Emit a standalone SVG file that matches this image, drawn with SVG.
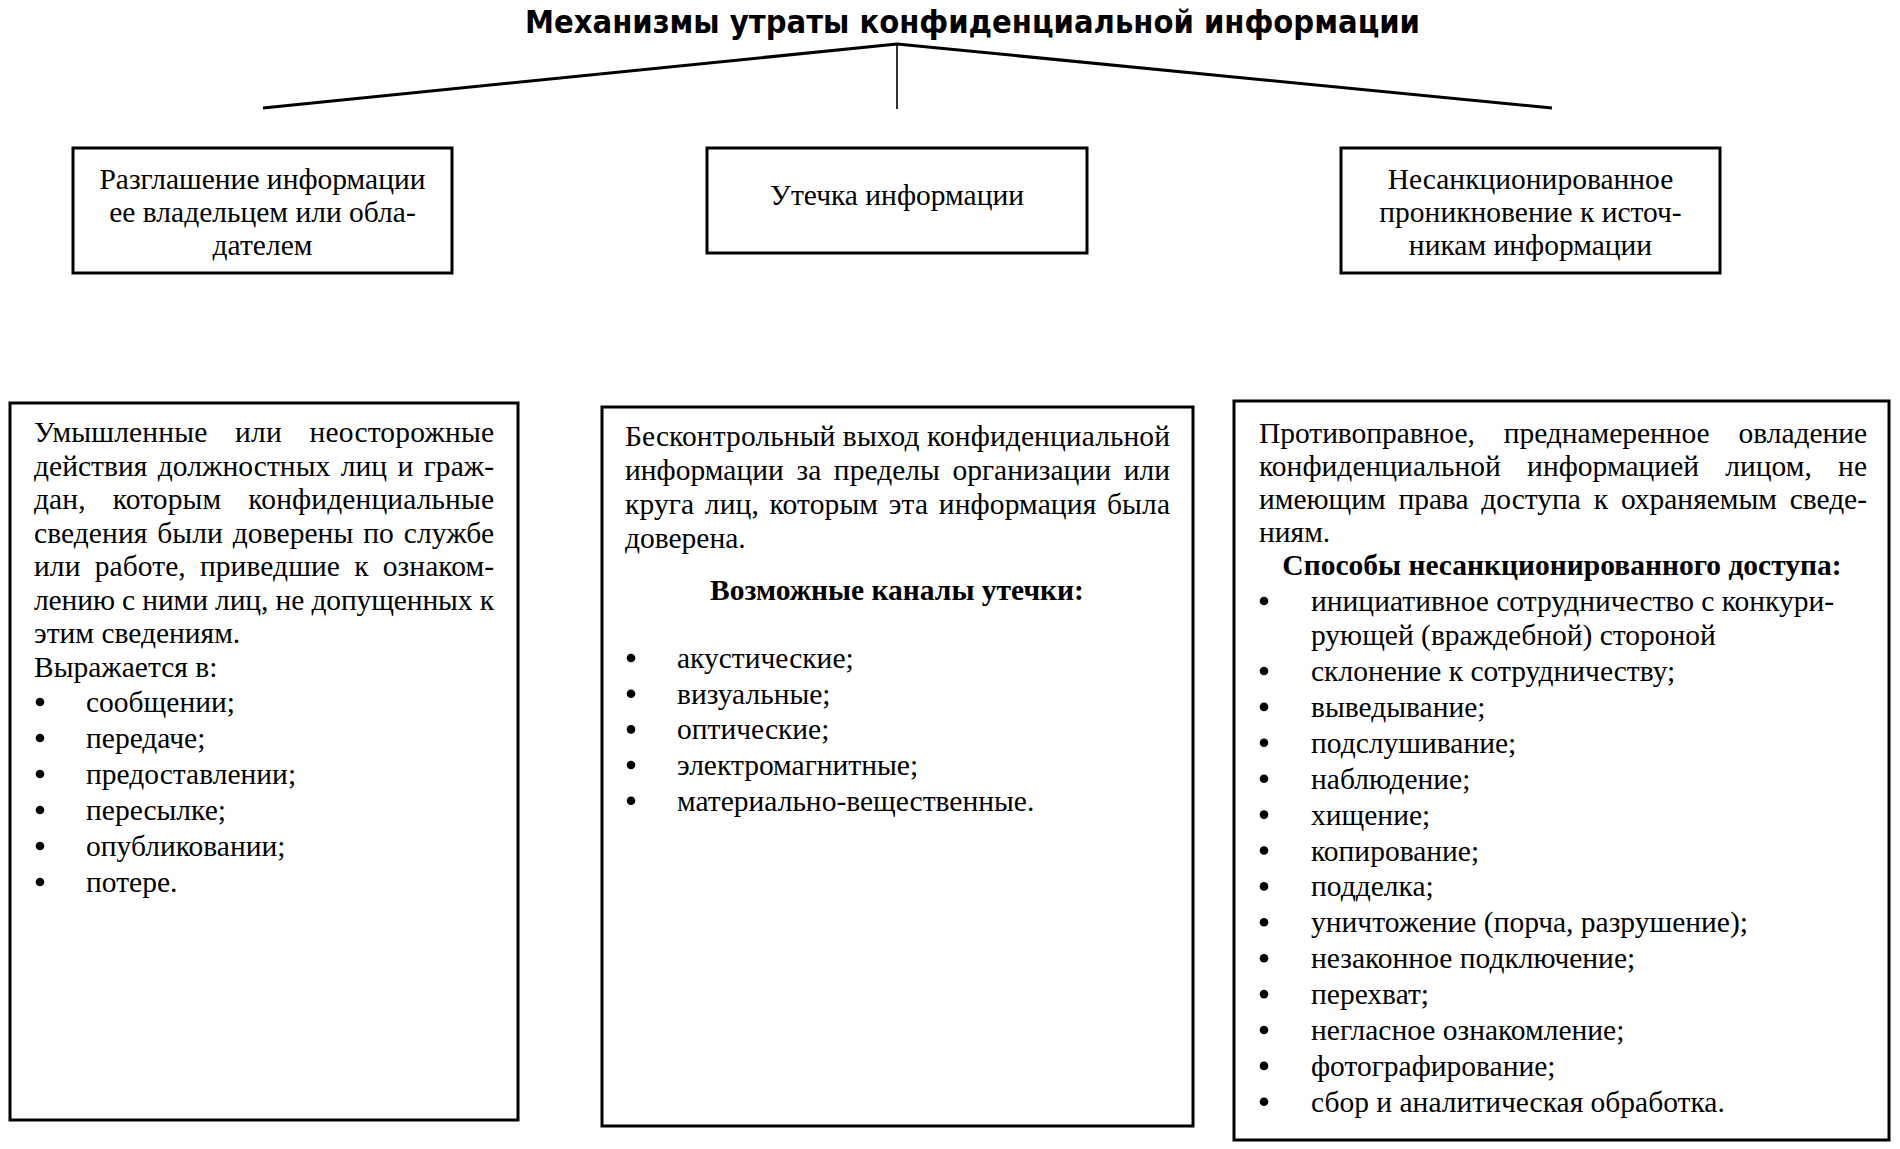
<svg xmlns="http://www.w3.org/2000/svg" width="1900" height="1149" viewBox="0 0 1900 1149">
<style>
.box{fill:#fff;stroke:#000;stroke-width:3}
.t{font-family:"Liberation Serif","Times New Roman",serif;font-size:29.5px;fill:#000}
.c{text-anchor:middle}
.bd{font-weight:bold}
.ttl{font-family:"DejaVu Sans","Liberation Sans",sans-serif;font-weight:bold;font-size:32px;fill:#000}
.dot{fill:#000}
.ln{fill:none;stroke:#000;stroke-width:3}
.ln1{fill:none;stroke:#000;stroke-width:1.6}
</style>
<rect width="1900" height="1149" fill="#fff"/>
<g id="title">
<text class="ttl" x="525" y="33" textLength="895" lengthAdjust="spacingAndGlyphs">Механизмы утраты конфиденциальной информации</text>
</g>
<g id="connectors">
<polyline class="ln" points="263,108 897,44 1552,108"/>
<line class="ln1" x1="897" y1="44" x2="897" y2="109"/>
</g>
<g id="node-disclosure">
<rect class="box" x="73" y="148" width="379" height="125"/>
<text class="t c" x="262.5" y="189">Разглашение информации</text>
<text class="t c" x="262.5" y="222">ее владельцем или обла-</text>
<text class="t c" x="262.5" y="255">дателем</text>
</g>
<g id="node-leak">
<rect class="box" x="707" y="148" width="380" height="105"/>
<text class="t c" x="897" y="205">Утечка информации</text>
</g>
<g id="node-unauthorized">
<rect class="box" x="1341" y="148" width="379" height="125"/>
<text class="t c" x="1530.5" y="189">Несанкционированное</text>
<text class="t c" x="1530.5" y="222">проникновение к источ-</text>
<text class="t c" x="1530.5" y="255">никам информации</text>
</g>
<g id="node-disclosure-detail">
<rect class="box" x="10" y="403" width="508" height="717"/>
<text class="t" x="34" y="442" word-spacing="20" textLength="460" lengthAdjust="spacing">Умышленные или неосторожные</text>
<text class="t" x="34" y="475.5" word-spacing="3" textLength="460" lengthAdjust="spacing">действия должностных лиц и граж-</text>
<text class="t" x="34" y="509" word-spacing="19.6" textLength="460" lengthAdjust="spacing">дан, которым конфиденциальные</text>
<text class="t" x="34" y="542.5" word-spacing="2.4" textLength="460" lengthAdjust="spacing">сведения были доверены по службе</text>
<text class="t" x="34" y="576" word-spacing="6.8" textLength="460" lengthAdjust="spacing">или работе, приведшие к ознаком-</text>
<text class="t" x="34" y="609.5" textLength="460" lengthAdjust="spacing">лению с ними лиц, не допущенных к</text>
<text class="t" x="34" y="643">этим сведениям.</text>
<text class="t" x="34" y="676.5">Выражается в:</text>
<circle class="dot" cx="40" cy="702" r="4.3"/><text class="t" x="86" y="712">сообщении;</text>
<circle class="dot" cx="40" cy="738" r="4.3"/><text class="t" x="86" y="748">передаче;</text>
<circle class="dot" cx="40" cy="774" r="4.3"/><text class="t" x="86" y="784">предоставлении;</text>
<circle class="dot" cx="40" cy="810" r="4.3"/><text class="t" x="86" y="820">пересылке;</text>
<circle class="dot" cx="40" cy="846" r="4.3"/><text class="t" x="86" y="856">опубликовании;</text>
<circle class="dot" cx="40" cy="882" r="4.3"/><text class="t" x="86" y="892">потере.</text>
</g>
<g id="node-leak-detail">
<rect class="box" x="602" y="407" width="591" height="719"/>
<text class="t" x="625" y="446" textLength="545" lengthAdjust="spacing">Бесконтрольный выход конфиденциальной</text>
<text class="t" x="625" y="480" word-spacing="5.2" textLength="545" lengthAdjust="spacing">информации за пределы организации или</text>
<text class="t" x="625" y="514" word-spacing="3.1" textLength="545" lengthAdjust="spacing">круга лиц, которым эта информация была</text>
<text class="t" x="625" y="548">доверена.</text>
<text class="t c bd" x="897" y="600">Возможные каналы утечки:</text>
<circle class="dot" cx="631" cy="658" r="4.3"/><text class="t" x="677" y="668">акустические;</text>
<circle class="dot" cx="631" cy="693.7" r="4.3"/><text class="t" x="677" y="703.7">визуальные;</text>
<circle class="dot" cx="631" cy="729.4" r="4.3"/><text class="t" x="677" y="739.4">оптические;</text>
<circle class="dot" cx="631" cy="765" r="4.3"/><text class="t" x="677" y="775">электромагнитные;</text>
<circle class="dot" cx="631" cy="800.7" r="4.3"/><text class="t" x="677" y="810.7">материально-вещественные.</text>
</g>
<g id="node-unauthorized-detail">
<rect class="box" x="1234" y="401" width="655" height="739"/>
<text class="t" x="1259" y="443" word-spacing="21.6" textLength="608" lengthAdjust="spacing">Противоправное, преднамеренное овладение</text>
<text class="t" x="1259" y="476" word-spacing="18.8" textLength="608" lengthAdjust="spacing">конфиденциальной информацией лицом, не</text>
<text class="t" x="1259" y="509" word-spacing="5.5" textLength="608" lengthAdjust="spacing">имеющим права доступа к охраняемым сведе-</text>
<text class="t" x="1259" y="542">ниям.</text>
<text class="t c bd" x="1562" y="575">Способы несанкционированного доступа:</text>
<circle class="dot" cx="1264" cy="601" r="4.3"/><text class="t" x="1311" y="611">инициативное сотрудничество с конкури-</text>
<text class="t" x="1311" y="645">рующей (враждебной) стороной</text>
<circle class="dot" cx="1264" cy="671" r="4.3"/><text class="t" x="1311" y="681">склонение к сотрудничеству;</text>
<circle class="dot" cx="1264" cy="706.9" r="4.3"/><text class="t" x="1311" y="716.9">выведывание;</text>
<circle class="dot" cx="1264" cy="742.8" r="4.3"/><text class="t" x="1311" y="752.8">подслушивание;</text>
<circle class="dot" cx="1264" cy="778.7" r="4.3"/><text class="t" x="1311" y="788.7">наблюдение;</text>
<circle class="dot" cx="1264" cy="814.6" r="4.3"/><text class="t" x="1311" y="824.6">хищение;</text>
<circle class="dot" cx="1264" cy="850.5" r="4.3"/><text class="t" x="1311" y="860.5">копирование;</text>
<circle class="dot" cx="1264" cy="886.4" r="4.3"/><text class="t" x="1311" y="896.4">подделка;</text>
<circle class="dot" cx="1264" cy="922.3" r="4.3"/><text class="t" x="1311" y="932.3">уничтожение (порча, разрушение);</text>
<circle class="dot" cx="1264" cy="958.2" r="4.3"/><text class="t" x="1311" y="968.2">незаконное подключение;</text>
<circle class="dot" cx="1264" cy="994.1" r="4.3"/><text class="t" x="1311" y="1004.1">перехват;</text>
<circle class="dot" cx="1264" cy="1030" r="4.3"/><text class="t" x="1311" y="1040">негласное ознакомление;</text>
<circle class="dot" cx="1264" cy="1065.9" r="4.3"/><text class="t" x="1311" y="1075.9">фотографирование;</text>
<circle class="dot" cx="1264" cy="1101.8" r="4.3"/><text class="t" x="1311" y="1111.8">сбор и аналитическая обработка.</text>
</g>
</svg>
